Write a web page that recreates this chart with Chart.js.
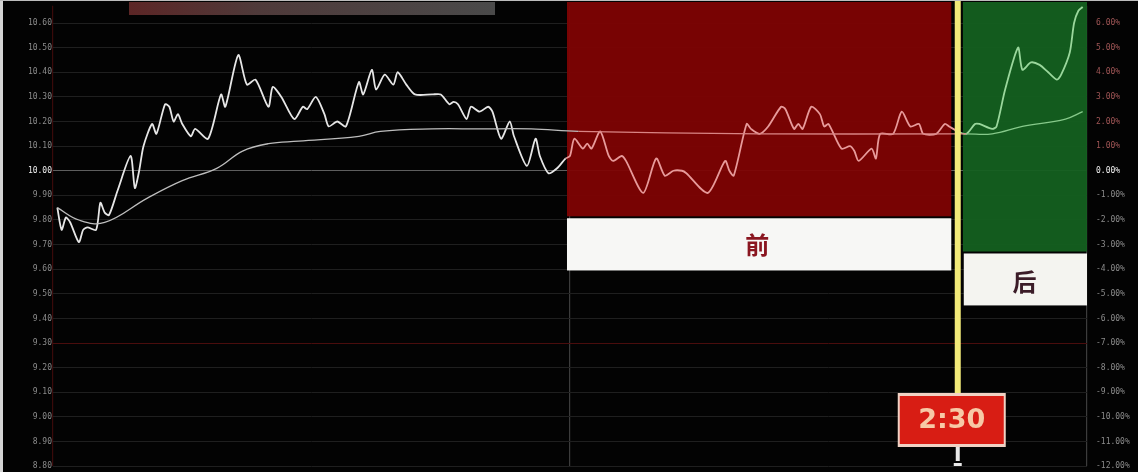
<!DOCTYPE html>
<html>
<head>
<meta charset="utf-8">
<script src="https://cdn.jsdelivr.net/npm/chart.js@4/dist/chart.umd.min.js"></script>
<style>
  html, body { margin: 0; padding: 0; background: #000; }
  #wrap { width: 1138px; height: 472px; position: relative; background: #030303; }
</style>
</head>
<body>
<div id="wrap"><canvas id="chart"></canvas></div>
<script>
// minutes since 9:30 (0..240, 120 = 11:30/13:00), price per minute
var priceMin = [1, 2, 3, 4, 6, 7, 8, 10, 11, 12, 13, 15, 18, 19, 20, 21, 23, 24, 26, 27, 28, 29, 30, 32, 33, 36,
  39, 40, 43, 45, 47, 50, 51, 53, 56, 58, 59, 61, 63, 64, 66, 68, 71, 72, 74, 75, 77, 79, 80, 82, 84, 88, 90,
  92, 93, 94, 96, 97, 99, 101, 102, 104, 106, 107, 110, 112, 113, 115, 117, 119,
  120, 121, 123, 124, 125, 127, 129, 130, 132, 133, 137, 140, 142, 144, 146, 147, 152, 156, 157, 158, 161,
  162, 164, 166, 169, 170, 172, 173, 174, 176, 178, 179, 180, 183, 185, 186, 187, 190, 191, 192, 195, 197,
  199, 201, 202, 205, 207, 208, 210,
  212, 214, 215, 218, 219, 221, 224, 225, 227, 229, 231, 233, 234, 236, 237, 238, 239];
var priceVal = [9.85, 9.76, 9.81, 9.79, 9.71, 9.76, 9.77, 9.76, 9.87, 9.83, 9.82, 9.92, 10.06, 9.93, 10.00, 10.10,
  10.19, 10.15, 10.27, 10.26, 10.20, 10.23, 10.19, 10.14, 10.17, 10.13,
  10.31, 10.26, 10.47, 10.35, 10.37, 10.26, 10.34, 10.30, 10.21, 10.26, 10.25, 10.30, 10.23, 10.18, 10.20, 10.18,
  10.36, 10.31, 10.41, 10.33, 10.39, 10.35, 10.40, 10.35, 10.31, 10.31, 10.31,
  10.27, 10.28, 10.27, 10.21, 10.26, 10.24, 10.26, 10.24, 10.13, 10.20, 10.14, 10.02, 10.13, 10.06, 9.99, 10.01, 10.05,
  10.06, 10.13, 10.09, 10.11, 10.09, 10.16, 10.06, 10.04, 10.06, 10.04, 9.91, 10.05, 9.98, 10.00, 10.00, 9.99,
  9.91, 10.04, 10.00, 9.98, 10.19,
  10.17, 10.15, 10.18, 10.26, 10.25, 10.17, 10.19, 10.17, 10.26, 10.23, 10.18, 10.19, 10.09, 10.10, 10.08, 10.04,
  10.09, 10.05, 10.15, 10.15, 10.24,
  10.18, 10.19, 10.15, 10.15, 10.19, 10.18, 10.16,
  10.15, 10.19, 10.19, 10.17, 10.18, 10.33, 10.50, 10.41, 10.44, 10.43, 10.40, 10.37, 10.39, 10.48, 10.60, 10.65, 10.665];

// average price line
var avgMin = [1, 6, 12, 22, 30, 38, 44, 50, 57, 71, 76, 88, 99, 111, 122, 164, 208, 212, 218, 225, 235, 239];
var avgVal = [9.85, 9.80, 9.79, 9.89, 9.96, 10.01, 10.08, 10.11, 10.12, 10.14, 10.16, 10.17, 10.17, 10.17,
  10.16, 10.15, 10.15, 10.15, 10.15, 10.18, 10.21, 10.24];

var prevClose = 10.00;
var yTicks = [8.8, 8.9, 9.0, 9.1, 9.2, 9.3, 9.4, 9.5, 9.6, 9.7, 9.8, 9.9, 10.0,
  10.1, 10.2, 10.3, 10.4, 10.5, 10.6];
var xTicks = [0, 120, 240];

var markTime = 210;          // 14:30
var markText = '2:30';
var beforeText = '前';
var afterText = '后';

function toPoints(xs, ys) {
  return xs.map(function (x, i) { return { x: x, y: ys[i] }; });
}

function segColor(white, pink, green) {
  return function (ctx) {
    var x = ctx.p0.parsed.x;
    if (x >= markTime) return green;
    if (x >= 119) return pink;
    return white;
  };
}

// boxes and labels drawn on the canvas
var overlays = {
  id: 'overlays',
  beforeDatasetsDraw: function (chart) {
    var c = chart.ctx, xs = chart.scales.x, ys = chart.scales.y;
    c.save();
    // red "before" block
    var x1 = xs.getPixelForValue(119.3), x2 = xs.getPixelForValue(208.5);
    c.fillStyle = 'rgba(128,3,3,0.94)';
    c.fillRect(x1, 2, x2 - x1, ys.getPixelForValue(9.815) - 2);
    // green "after" block
    var g1 = xs.getPixelForValue(211.2), g2 = xs.getPixelForValue(240);
    c.fillStyle = 'rgba(20,96,32,0.95)';
    c.fillRect(g1, 2, g2 - g1, ys.getPixelForValue(9.672) - 2);
    c.restore();
  },
  afterDatasetsDraw: function (chart) {
    var c = chart.ctx, xs = chart.scales.x, ys = chart.scales.y;
    c.save();
    // grey title bar at top left
    var grad = c.createLinearGradient(130, 0, 495, 0);
    grad.addColorStop(0, '#5c2626');
    grad.addColorStop(0.35, '#4f3a3a');
    grad.addColorStop(1, '#4a4a4a');
    c.fillStyle = grad;
    c.fillRect(129, 2, 366, 13);

    // white label under red block
    var x1 = xs.getPixelForValue(119.3), x2 = xs.getPixelForValue(208.5);
    var yA = ys.getPixelForValue(9.807), yB = ys.getPixelForValue(9.595);
    c.fillStyle = '#f7f7f5';
    c.fillRect(x1, yA, x2 - x1, yB - yA);
    c.fillStyle = '#8a1620';
    c.font = 'bold 24px "Noto Sans CJK SC", serif';
    c.textAlign = 'center';
    c.textBaseline = 'middle';
    c.fillText(beforeText, (x1 + x2) / 2 - 2, (yA + yB) / 2 + 1);

    // white label under green block
    var g1 = xs.getPixelForValue(211.4), g2 = xs.getPixelForValue(240);
    var yC = ys.getPixelForValue(9.664), yD = ys.getPixelForValue(9.453);
    c.fillStyle = '#f4f4f0';
    c.fillRect(g1, yC, g2 - g1, yD - yC);
    c.fillStyle = '#3b1c28';
    c.fillText(afterText, (g1 + g2) / 2 - 1, (yC + yD) / 2 + 2);

    // yellow 14:30 marker
    var mx = xs.getPixelForValue(markTime);
    c.fillStyle = '#f2ea78';
    c.fillRect(mx - 3, 0, 6, 396);
    // time tag
    c.fillStyle = '#f1d2c4';
    c.fillRect(mx - 60, 393, 108, 54);
    c.fillStyle = '#d81d14';
    c.fillRect(mx - 58, 396, 104, 48);
    c.fillStyle = '#f7c9a6';
    c.font = 'bold 27px "DejaVu Sans", Arial, sans-serif';
    c.fillText(markText, mx - 6, 421);
    // stub under tag
    c.fillStyle = '#e8e8e8';
    c.fillRect(mx - 2, 447, 4, 14);
    c.fillRect(mx - 4, 463, 8, 3);

    // light frame of the screenshot
    c.fillStyle = '#d4d4d4';
    c.fillRect(0, 0, 3, 472);
    c.fillStyle = '#bcbcbc';
    c.fillRect(0, 0, 1138, 1);
    c.restore();
  }
};

function gridColor(ctx) {
  var v = ctx.tick && ctx.tick.value;
  if (Math.abs(v - prevClose) < 0.001) return '#5e5e5e';
  if (Math.abs(v - 9.3) < 0.001) return '#4a0d0d';
  return '#1f1f1f';
}

var ctx = document.getElementById('chart').getContext('2d');
new Chart(ctx, {
  type: 'line',
  data: {
    datasets: [{
      label: 'avg',
      data: toPoints(avgMin, avgVal),
      borderColor: '#bdbdbd',
      borderWidth: 1.3,
      pointRadius: 0,
      tension: 0.4,
      segment: { borderColor: segColor('#bdbdbd', '#d98484', '#86c98a') }
    }, {
      label: 'price',
      data: toPoints(priceMin, priceVal),
      borderColor: '#e6e6e6',
      borderWidth: 1.8,
      pointRadius: 0,
      tension: 0.25,
      segment: { borderColor: segColor('#e6e6e6', '#e79a9a', '#9ad79c') }
    }]
  },
  options: {
    responsive: true,
    maintainAspectRatio: false,
    animation: false,
    layout: { padding: 0 },
    plugins: { legend: { display: false }, tooltip: { enabled: false } },
    scales: {
      x: {
        type: 'linear', min: 0, max: 240,
        afterBuildTicks: function (s) { s.ticks = xTicks.map(function (v) { return { value: v }; }); },
        ticks: { display: false },
        border: { display: false },
        grid: {
          drawTicks: false,
          color: function (c) { return c.tick.value === 0 ? '#3a0a0a' : '#3c3c3c'; },
          lineWidth: 1.2
        }
      },
      y: {
        position: 'left', min: 8.8, max: 10.67,
        afterBuildTicks: function (s) { s.ticks = yTicks.map(function (v) { return { value: v }; }); },
        afterFit: function (s) { s.width = 53; },
        border: { display: false },
        grid: { color: gridColor, drawTicks: false },
        ticks: {
          color: function (c) { return Math.abs(c.tick.value - prevClose) < 0.001 ? '#f0f0f0' : '#8c8c8c'; },
          font: { size: 8, family: 'DejaVu Sans Mono' },
          padding: 1,
          callback: function (v) { return v.toFixed(2); }
        }
      },
      y1: {
        position: 'right', min: 8.8, max: 10.67,
        afterBuildTicks: function (s) { s.ticks = yTicks.map(function (v) { return { value: v }; }); },
        afterFit: function (s) { s.width = 51; },
        border: { display: false },
        grid: { display: false },
        ticks: {
          color: function (c) {
            var v = c.tick.value;
            if (Math.abs(v - prevClose) < 0.001) return '#f0f0f0';
            return v > prevClose ? '#a05656' : '#8c8c8c';
          },
          font: { size: 8, family: 'DejaVu Sans Mono' },
          padding: 1,
          callback: function (v) { return ((v - prevClose) / prevClose * 100).toFixed(2) + '%'; }
        }
      }
    }
  },
  plugins: [overlays]
});
</script>
</body>
</html>
